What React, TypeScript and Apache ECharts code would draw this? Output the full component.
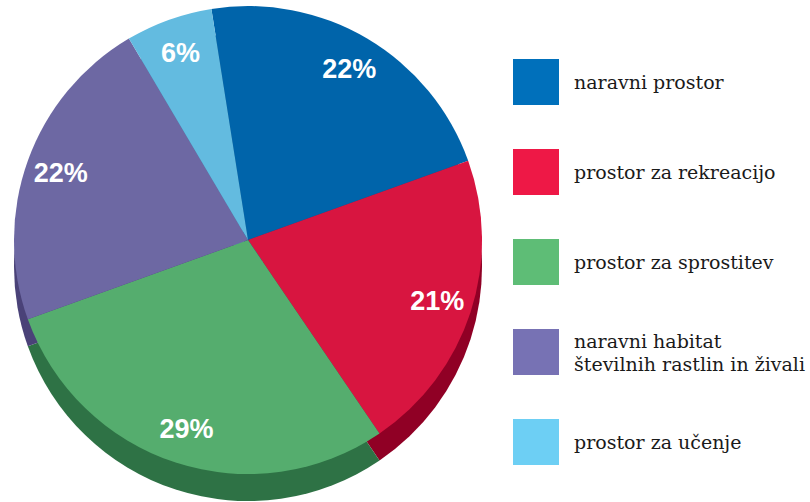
import React, { useEffect, useRef } from "react";
import * as echarts from "echarts";

const categories = [
  "naravni prostor",
  "prostor za rekreacijo",
  "prostor za sprostitev",
  "naravni habitat\nštevilnih rastlin in živali",
  "prostor za učenje",
];
const values = [22, 21, 29, 22, 6];
const topColors = ["#0064aa", "#d81540", "#55ad6e", "#6d68a3", "#63bbe0"];
const sideColors = ["#004a85", "#900025", "#2e7245", "#4a4278", "#3f8fb3"];
const legendColors = ["#0070bb", "#ee1846", "#5ebd76", "#7772b4", "#6dcff4"];

export default function App() {
  const ref = useRef<HTMLDivElement>(null);
  useEffect(() => {
    if (!ref.current) return;
    const chart = echarts.init(ref.current, null, { renderer: "svg" });
    const cx = 248;
    const cy = 240;
    const r = 234;
    const depth = 27;
    const common = {
      type: "pie" as const,
      startAngle: 99,
      clockwise: true,
      avoidLabelOverlap: false,
      silent: true,
      labelLine: { show: false },
      emphasis: { disabled: true },
    };
    chart.setOption({
      animation: false,
      backgroundColor: "#ffffff",
      legend: {
        orient: "vertical",
        left: 513,
        top: 59,
        padding: 0,
        itemWidth: 46,
        itemHeight: 46,
        itemGap: 44,
        selectedMode: false,
        textStyle: {
          fontFamily: "DejaVu Serif",
          fontSize: 19,
          color: "#1a1a1a",
          lineHeight: 23,
          padding: [0, 0, 0, 10],
        },
        data: categories.map((c, i) => ({
          name: c,
          icon: "rect",
          itemStyle: { color: legendColors[i] },
        })),
      },
      series: [
        {
          ...common,
          name: "side",
          center: [cx, cy + depth],
          radius: [0, r],
          label: { show: false },
          data: categories.map((c, i) => ({
            name: c,
            value: values[i],
            itemStyle: { color: sideColors[i] },
          })),
        },
        {
          ...common,
          name: "top",
          center: [cx, cy],
          radius: [0, r],
          label: { show: false },
          data: categories.map((c, i) => ({
            name: c,
            value: values[i],
            itemStyle: { color: topColors[i] },
          })),
        },
        {
          ...common,
          name: "labels",
          center: [cx, cy],
          radius: [162, 230],
          label: {
            show: true,
            position: "inside",
            formatter: "{c}%",
            color: "#ffffff",
            fontFamily: "Liberation Sans",
            fontWeight: "bold",
            fontSize: 27,
          },
          itemStyle: { color: "rgba(0,0,0,0)" },
          data: categories.map((c, i) => ({
            name: c,
            value: values[i],
            itemStyle: { color: "rgba(0,0,0,0)" },
          })),
        },
      ],
    });
    return () => chart.dispose();
  }, []);
  return (
    <div
      ref={ref}
      style={{ position: "fixed", left: 0, top: 0, width: 810, height: 502 }}
    />
  );
}
